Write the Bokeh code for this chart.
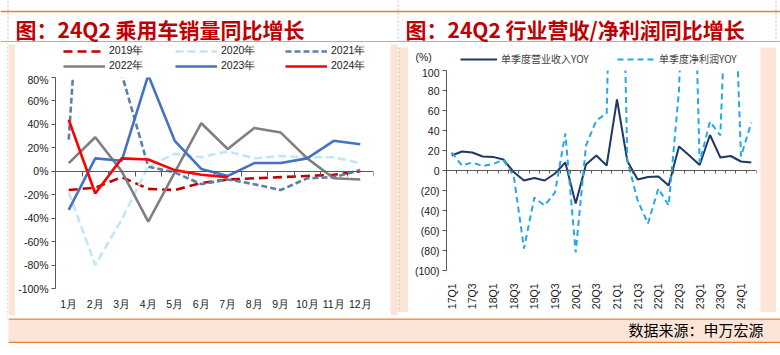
import math
import numpy as np
from bokeh.plotting import figure
from bokeh.models import Plot, Range1d, LinearAxis, FixedTicker, Legend, LegendItem, Label, Span
from bokeh.layouts import row, column
from bokeh.embed import file_html
from bokeh.resources import INLINE

# ---------------- data ----------------
months = ["1月", "2月", "3月", "4月", "5月", "6月", "7月", "8月", "9月", "10月", "11月", "12月"]
sales_2019 = [-16, -14, -5, -15, -16, -10, -7, -6, -5, -4, -3, 0]
sales_2020 = [-18, -80, -41, 4, 15, 12, 17, 11, 13, 12, 12, 7]
sales_2021 = [27, 370, 83, 4, -1, -11, -7, -11, -16, -6, -5, 1]
sales_2022 = [7, 29, 0, -43, -1, 41, 19, 37, 33, 11, -6, -7]
sales_2023 = [-33, 11, 9, 82, 26, 2, -4, 7, 7, 11, 26, 23]
sales_2024 = [44, -19, 11, 10, 1, -3, -5]
left_ticks = [-100, -80, -60, -40, -20, 0, 20, 40, 60, 80]

quarters = ["17Q1", "17Q2", "17Q3", "17Q4", "18Q1", "18Q2", "18Q3", "18Q4",
            "19Q1", "19Q2", "19Q3", "19Q4", "20Q1", "20Q2", "20Q3", "20Q4",
            "21Q1", "21Q2", "21Q3", "21Q4", "22Q1", "22Q2", "22Q3", "22Q4",
            "23Q1", "23Q2", "23Q3", "23Q4", "24Q1", "24Q2"]
revenue_yoy = [15, 19, 18, 14, 13.6, 11, -1.5, -10, -7.5, -10, -3, 8, -33, 6, 15, 5,
               71, 9.5, -9, -6.5, -6, -15, 24, 15, 5.5, 35.5, 13, 14.5, 9, 8]
profit_yoy = [18, 5, 8, 4.5, 6.5, 10.5, -5, -78, -27, -35, -22, 37, -82, 25, 50, 57,
              500, 10, -30, -53, -18, -35, 80, 400, 8, 49, 35, 300, 14, 48]
right_ticks = [-100, -80, -60, -40, -20, 0, 20, 40, 60, 80, 100]

PEACH = "#FCE4D6"
ORANGE = "#ED7D31"
AXIS = "#595959"
TXT = "#1a1a1a"
FONT = "Liberation Sans"
CJK = "Noto Sans CJK SC"
NAN = np.array([np.nan])
HAS_FA = "frame_align" in Plot.properties()


def blank(w, h, fill, free=False):
    kw = dict(frame_align=False) if (free and HAS_FA) else {}
    f = figure(width=w, height=h, toolbar_location=None, output_backend="svg",
               x_range=Range1d(0, w), y_range=Range1d(0, h), min_border=0,
               x_axis_location=None, y_axis_location=None, outline_line_color=None,
               border_fill_color=fill, background_fill_color=fill, **kw)
    f.grid.visible = False
    return f


def vdash(f, x):
    f.add_layout(Span(location=x, dimension="height", line_color="#BFBFBF",
                      line_width=1, line_dash="2 2"))


def legend_entry(fig, label, loc, style, glyph_w, font, size, color):
    proxy = fig.line(np.array([0.0]), NAN, **style)
    fig.add_layout(Legend(items=[LegendItem(label=label, renderers=[proxy])],
                          location=loc, margin=0, padding=0, spacing=0,
                          glyph_width=glyph_w, glyph_height=10, label_height=10,
                          label_standoff=4, label_text_font=font,
                          label_text_font_size=size, label_text_color=color,
                          background_fill_alpha=0, border_line_color=None))


SHIFT = 0 if HAS_FA else -38

# ---------------- title bar ----------------
title = blank(780, 42, "white")
title.add_layout(Span(location=31, dimension="width", line_color=ORANGE, line_width=1.5))
title.add_layout(Span(location=0.6, dimension="width", line_color=ORANGE, line_width=1.5))
for xx in (7.5, 397.5, 775.5):
    vdash(title, xx)
for tx, tt in [(15, "图：24Q2 乘用车销量同比增长"), (405, "图：24Q2 行业营收/净利润同比增长")]:
    title.add_layout(Label(x=tx, y=14, text=tt, text_font=CJK, text_font_style="bold",
                           text_font_size="21px", text_color="#C00000", text_baseline="middle"))

# ---------------- left chart ----------------
xm = list(range(len(months)))
p1 = figure(width=375, height=242, x_range=Range1d(-0.5, len(months) - 0.5),
            y_range=Range1d(left_ticks[0], left_ticks[-1]),
            toolbar_location=None, output_backend="svg",
            x_axis_location=None, y_axis_location=None,
            min_border_left=38, min_border_right=17, min_border_top=4, min_border_bottom=27,
            outline_line_color=None, border_fill_color="white", background_fill_color="white")
p1.grid.visible = False

yax1 = LinearAxis(ticker=FixedTicker(ticks=left_ticks),
                  major_label_overrides={t: f"{t}%" for t in left_ticks},
                  axis_line_color=AXIS, major_tick_line_color=AXIS, minor_tick_line_color=None,
                  major_tick_in=0, major_tick_out=4, major_label_standoff=3,
                  major_label_text_font=FONT, major_label_text_font_size="10.5px",
                  major_label_text_color=TXT)
p1.add_layout(yax1, "left")
mx1 = LinearAxis(ticker=FixedTicker(ticks=xm),
                 major_label_overrides={i: m for i, m in zip(xm, months)},
                 axis_line_color=None, major_tick_line_color=None, minor_tick_line_color=None,
                 major_label_standoff=3, major_label_text_font=FONT,
                 major_label_text_font_size="10.5px", major_label_text_color=TXT)
p1.add_layout(mx1, "below")
zx1 = LinearAxis(fixed_location=0, ticker=FixedTicker(ticks=[i - 0.5 for i in xm] + [xm[-1] + 0.5]),
                 axis_line_color=AXIS, major_tick_line_color=AXIS, minor_tick_line_color=None,
                 major_tick_in=0, major_tick_out=5, major_label_text_color=None,
                 major_label_standoff=0)
p1.add_layout(zx1, "below")

series = [
    ("2019年", sales_2019, "#C00000", "9 5"),
    ("2020年", sales_2020, "#C0E6F7", "8 4"),
    ("2021年", sales_2021, "#5B80AA", "6 3"),
    ("2022年", sales_2022, "#808080", "solid"),
    ("2023年", sales_2023, "#4472C4", "solid"),
    ("2024年", sales_2024, "#FF0000", "solid"),
]
lg1 = blank(375, 29, "white", free=True)
col_x1 = [48, 160, 270]
row_y1 = [15, 0]
for k, (name, vals, col, dash) in enumerate(series):
    style = dict(line_color=col, line_width=2.6, line_dash=dash)
    p1.line(xm[:len(vals)], vals, **style)
    legend_entry(lg1, name, (col_x1[k % 3] + SHIFT, row_y1[k // 3]), style, 42, FONT,
                 "10.5px", TXT)

# ---------------- right chart ----------------
xq = list(range(len(quarters)))
p2 = figure(width=352, height=246, x_range=Range1d(-0.5, len(quarters) - 0.5),
            y_range=Range1d(right_ticks[0], right_ticks[-1]),
            toolbar_location=None, output_backend="svg",
            x_axis_location=None, y_axis_location=None,
            min_border_left=38, min_border_right=4, min_border_top=4, min_border_bottom=32,
            outline_line_color=None, border_fill_color="white", background_fill_color="white")
p2.grid.visible = False

yax2 = LinearAxis(ticker=FixedTicker(ticks=right_ticks),
                  major_label_overrides={t: (f"({-t})" if t < 0 else f"{t}") for t in right_ticks},
                  axis_line_color=AXIS, major_tick_line_color=AXIS, minor_tick_line_color=None,
                  major_tick_in=0, major_tick_out=4, major_label_standoff=3,
                  major_label_text_font=FONT, major_label_text_font_size="10.5px",
                  major_label_text_color=TXT)
p2.add_layout(yax2, "left")
lab_idx = xq[::2]
mx2 = LinearAxis(ticker=FixedTicker(ticks=lab_idx),
                 major_label_overrides={i: quarters[i] for i in lab_idx},
                 major_label_orientation=math.pi / 2,
                 axis_line_color=None, major_tick_line_color=None, minor_tick_line_color=None,
                 major_label_standoff=7, major_label_text_font=FONT,
                 major_label_text_font_size="10.5px", major_label_text_color=TXT)
p2.add_layout(mx2, "below")
zx2 = LinearAxis(fixed_location=0, ticker=FixedTicker(ticks=[i - 0.5 for i in xq] + [xq[-1] + 0.5]),
                 axis_line_color=AXIS, major_tick_line_color=AXIS, minor_tick_line_color=None,
                 major_tick_in=0, major_tick_out=3, major_label_text_color=None,
                 major_label_standoff=0)
p2.add_layout(zx2, "below")

rev_style = dict(line_color="#1F3864", line_width=2)
pro_style = dict(line_color="#25A8E6", line_width=2, line_dash="6 4")
p2.line(xq, revenue_yoy, **rev_style)
p2.line(xq, profit_yoy, **pro_style)

lg2 = blank(352, 19, "white", free=True)
legend_entry(lg2, "单季度营业收入YOY", (52 + SHIFT, 0), rev_style, 37, CJK, "10px", "#404040")
legend_entry(lg2, "单季度净利润YOY", (209 + SHIFT, 0), pro_style, 38, CJK, "10px", "#404040")
lg2.add_layout(Label(x=7, y=10, text="(%)", text_font=FONT, text_font_size="10.5px",
                     text_color=TXT, text_baseline="middle"))

# ---------------- panels ----------------
lp_l = blank(7, 271, PEACH)
left_panel = column(blank(390, 2, PEACH),
                    row(lp_l, column(lg1, p1), blank(8, 271, PEACH)),
                    blank(390, 3, PEACH))
rp_l = blank(10, 265, PEACH)
vdash(rp_l, 0.5)
right_panel = column(blank(378, 5, PEACH),
                     row(rp_l, column(lg2, p2), blank(16, 265, PEACH)),
                     blank(378, 6, PEACH))
lw = blank(8, 276, "white")
vdash(lw, 7.5)
rw = blank(4, 276, "white")
middle = row(lw, left_panel, right_panel, rw)

# ---------------- footer ----------------
foot = blank(772, 25, PEACH)
foot.add_layout(Span(location=24.4, dimension="width", line_color=ORANGE, line_width=1.5))
foot.add_layout(Span(location=0.9, dimension="width", line_color=ORANGE, line_width=1.5))
foot.add_layout(Label(x=755, y=14, text="数据来源：申万宏源", text_font=CJK,
                      text_font_size="15px", text_color="#000000",
                      text_align="right", text_baseline="middle"))
footer = row(blank(8, 25, "white"), foot)

page = column(title, middle, footer)
open("out.html", "w").write(file_html(page, INLINE))
